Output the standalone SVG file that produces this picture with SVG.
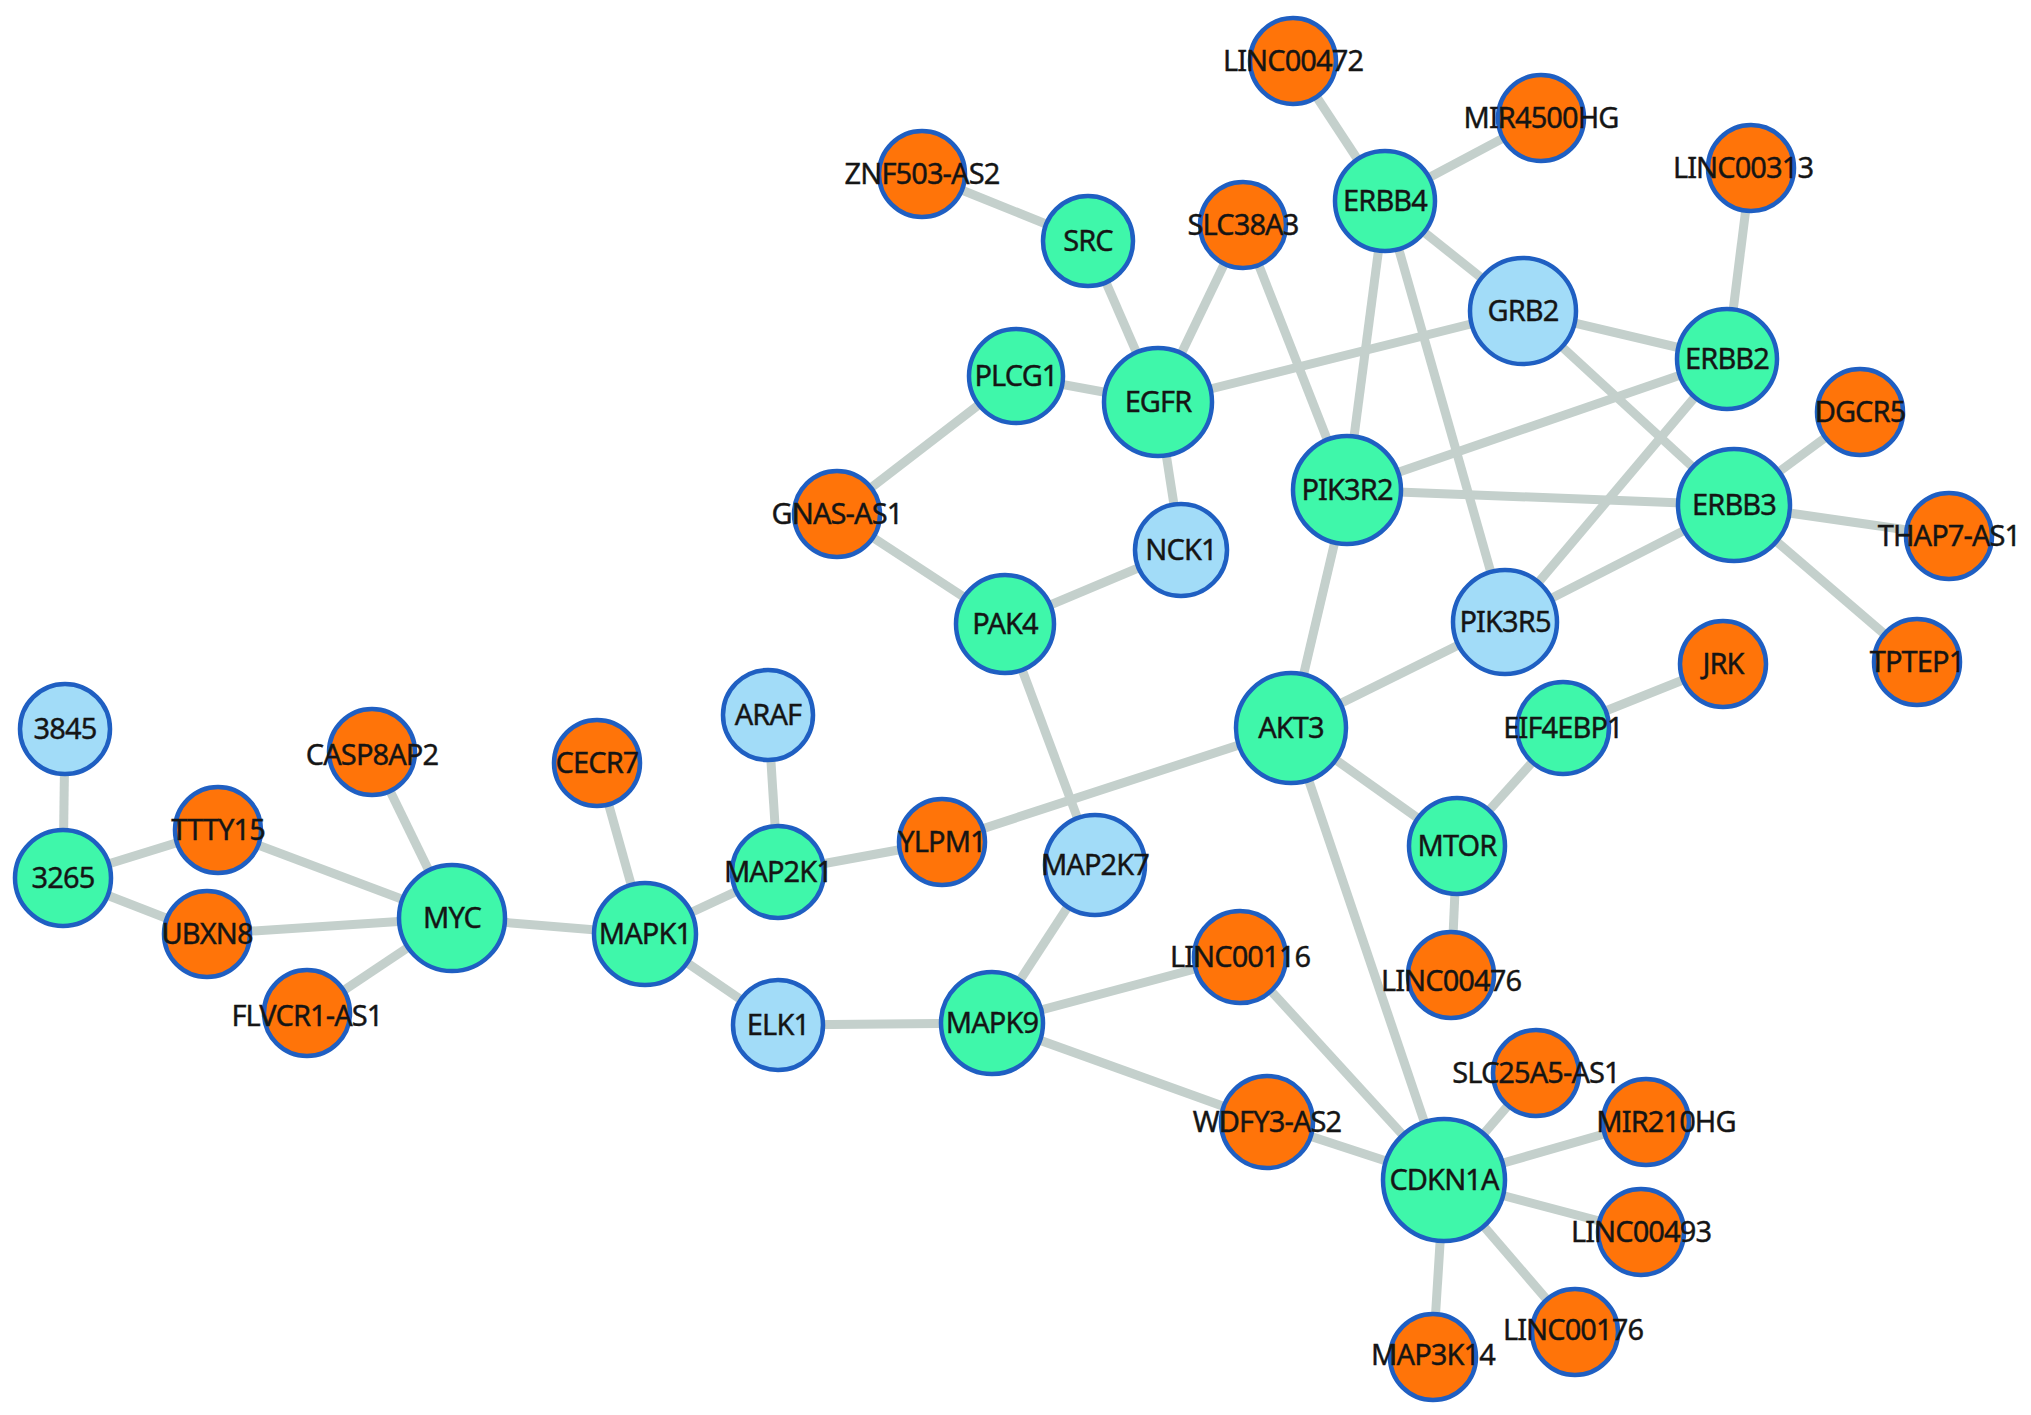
<svg xmlns="http://www.w3.org/2000/svg" width="2031" height="1415" viewBox="0 0 2031 1415">
<style>
.e{stroke:#c4d0cc;stroke-width:9;stroke-linecap:butt;fill:none}
.n circle{stroke:#1f5fc2;stroke-width:4.5}
.o circle{fill:#ff7409}
.g circle{fill:#3ff7aa}
.b circle{fill:#a2dcf8}
text{font-family:"Noto Sans","Open Sans","DejaVu Sans",sans-serif;font-size:29px;fill:#151515;stroke:#151515;stroke-width:0.4;text-anchor:middle;letter-spacing:-0.9px}
</style>
<rect width="2031" height="1415" fill="#ffffff"/>
<g id="edges">
<line class="e" x1="1293" y1="61" x2="1385" y2="201"/>
<line class="e" x1="1541" y1="118" x2="1385" y2="201"/>
<line class="e" x1="1385" y1="201" x2="1523" y2="311"/>
<line class="e" x1="1385" y1="201" x2="1347" y2="490"/>
<line class="e" x1="1385" y1="201" x2="1505" y2="622"/>
<line class="e" x1="922" y1="174" x2="1088" y2="241"/>
<line class="e" x1="1088" y1="241" x2="1158" y2="402"/>
<line class="e" x1="1243" y1="225" x2="1158" y2="402"/>
<line class="e" x1="1243" y1="225" x2="1347" y2="490"/>
<line class="e" x1="1158" y1="402" x2="1523" y2="311"/>
<line class="e" x1="1158" y1="402" x2="1016" y2="376"/>
<line class="e" x1="1158" y1="402" x2="1181" y2="550"/>
<line class="e" x1="1016" y1="376" x2="837" y2="514"/>
<line class="e" x1="837" y1="514" x2="1005" y2="624"/>
<line class="e" x1="1005" y1="624" x2="1181" y2="550"/>
<line class="e" x1="1005" y1="624" x2="1095" y2="865"/>
<line class="e" x1="1751" y1="168" x2="1727" y2="359"/>
<line class="e" x1="1523" y1="311" x2="1727" y2="359"/>
<line class="e" x1="1523" y1="311" x2="1734" y2="505"/>
<line class="e" x1="1727" y1="359" x2="1347" y2="490"/>
<line class="e" x1="1727" y1="359" x2="1505" y2="622"/>
<line class="e" x1="1347" y1="490" x2="1734" y2="505"/>
<line class="e" x1="1734" y1="505" x2="1505" y2="622"/>
<line class="e" x1="1734" y1="505" x2="1860" y2="412"/>
<line class="e" x1="1734" y1="505" x2="1949" y2="536"/>
<line class="e" x1="1734" y1="505" x2="1917" y2="662"/>
<line class="e" x1="1347" y1="490" x2="1291" y2="728"/>
<line class="e" x1="1291" y1="728" x2="1505" y2="622"/>
<line class="e" x1="1291" y1="728" x2="942" y2="842"/>
<line class="e" x1="1291" y1="728" x2="1457" y2="846"/>
<line class="e" x1="1291" y1="728" x2="1444" y2="1180"/>
<line class="e" x1="1563" y1="728" x2="1723" y2="664"/>
<line class="e" x1="1563" y1="728" x2="1457" y2="846"/>
<line class="e" x1="1457" y1="846" x2="1451" y2="981"/>
<line class="e" x1="942" y1="842" x2="778" y2="872"/>
<line class="e" x1="768" y1="715" x2="778" y2="872"/>
<line class="e" x1="778" y1="872" x2="645" y2="934"/>
<line class="e" x1="597" y1="763" x2="645" y2="934"/>
<line class="e" x1="645" y1="934" x2="452" y2="918"/>
<line class="e" x1="645" y1="934" x2="778" y2="1025"/>
<line class="e" x1="778" y1="1025" x2="992" y2="1023"/>
<line class="e" x1="992" y1="1023" x2="1095" y2="865"/>
<line class="e" x1="992" y1="1023" x2="1240" y2="957"/>
<line class="e" x1="992" y1="1023" x2="1267" y2="1122"/>
<line class="e" x1="1267" y1="1122" x2="1444" y2="1180"/>
<line class="e" x1="1240" y1="957" x2="1444" y2="1180"/>
<line class="e" x1="1536" y1="1073" x2="1444" y2="1180"/>
<line class="e" x1="1646" y1="1122" x2="1444" y2="1180"/>
<line class="e" x1="1641" y1="1232" x2="1444" y2="1180"/>
<line class="e" x1="1573" y1="1330" x2="1444" y2="1180"/>
<line class="e" x1="1433" y1="1355" x2="1444" y2="1180"/>
<line class="e" x1="452" y1="918" x2="372" y2="754"/>
<line class="e" x1="452" y1="918" x2="218" y2="830"/>
<line class="e" x1="452" y1="918" x2="207" y2="934"/>
<line class="e" x1="452" y1="918" x2="307" y2="1015"/>
<line class="e" x1="63" y1="878" x2="218" y2="830"/>
<line class="e" x1="63" y1="878" x2="207" y2="934"/>
<line class="e" x1="63" y1="878" x2="65" y2="729"/>
</g>
<g id="n-LINC00472" class="n o"><circle cx="1293" cy="61" r="43"/><text x="1293" y="71">LINC00472</text></g>
<g id="n-MIR4500HG" class="n o"><circle cx="1541" cy="118" r="43"/><text x="1541" y="128">MIR4500HG</text></g>
<g id="n-ZNF503-AS2" class="n o"><circle cx="922" cy="174" r="43"/><text x="922" y="184">ZNF503-AS2</text></g>
<g id="n-SLC38A3" class="n o"><circle cx="1243" cy="225" r="43"/><text x="1243" y="235">SLC38A3</text></g>
<g id="n-LINC00313" class="n o"><circle cx="1751" cy="168" r="43"/><text x="1743" y="178">LINC00313</text></g>
<g id="n-DGCR5" class="n o"><circle cx="1860" cy="412" r="43"/><text x="1860" y="422">DGCR5</text></g>
<g id="n-THAP7-AS1" class="n o"><circle cx="1949" cy="536" r="43"/><text x="1949" y="546">THAP7-AS1</text></g>
<g id="n-TPTEP1" class="n o"><circle cx="1917" cy="662" r="43"/><text x="1917" y="672">TPTEP1</text></g>
<g id="n-JRK" class="n o"><circle cx="1723" cy="664" r="43"/><text x="1723" y="674">JRK</text></g>
<g id="n-GNAS-AS1" class="n o"><circle cx="837" cy="514" r="43"/><text x="837" y="524">GNAS-AS1</text></g>
<g id="n-CASP8AP2" class="n o"><circle cx="372" cy="752" r="43"/><text x="372" y="765">CASP8AP2</text></g>
<g id="n-CECR7" class="n o"><circle cx="597" cy="763" r="43"/><text x="597" y="773">CECR7</text></g>
<g id="n-TTTY15" class="n o"><circle cx="218" cy="830" r="43"/><text x="218" y="840">TTTY15</text></g>
<g id="n-UBXN8" class="n o"><circle cx="207" cy="934" r="43"/><text x="207" y="944">UBXN8</text></g>
<g id="n-FLVCR1-AS1" class="n o"><circle cx="307" cy="1013" r="43"/><text x="307" y="1026">FLVCR1-AS1</text></g>
<g id="n-YLPM1" class="n o"><circle cx="942" cy="842" r="43"/><text x="942" y="852">YLPM1</text></g>
<g id="n-LINC00116" class="n o"><circle cx="1240" cy="957" r="46"/><text x="1240" y="967">LINC00116</text></g>
<g id="n-LINC00476" class="n o"><circle cx="1451" cy="975" r="43"/><text x="1451" y="991">LINC00476</text></g>
<g id="n-SLC25A5-AS1" class="n o"><circle cx="1536" cy="1073" r="43"/><text x="1536" y="1083">SLC25A5-AS1</text></g>
<g id="n-MIR210HG" class="n o"><circle cx="1646" cy="1122" r="43"/><text x="1666" y="1132">MIR210HG</text></g>
<g id="n-WDFY3-AS2" class="n o"><circle cx="1267" cy="1122" r="46"/><text x="1267" y="1132">WDFY3-AS2</text></g>
<g id="n-LINC00493" class="n o"><circle cx="1641" cy="1232" r="43"/><text x="1641" y="1242">LINC00493</text></g>
<g id="n-LINC00176" class="n o"><circle cx="1575" cy="1332" r="43"/><text x="1573" y="1340">LINC00176</text></g>
<g id="n-MAP3K14" class="n o"><circle cx="1433" cy="1357" r="43"/><text x="1433" y="1365">MAP3K14</text></g>
<g id="n-ERBB4" class="n g"><circle cx="1385" cy="201" r="50"/><text x="1385" y="211">ERBB4</text></g>
<g id="n-SRC" class="n g"><circle cx="1088" cy="241" r="45"/><text x="1088" y="251">SRC</text></g>
<g id="n-PLCG1" class="n g"><circle cx="1016" cy="376" r="47"/><text x="1016" y="386">PLCG1</text></g>
<g id="n-EGFR" class="n g"><circle cx="1158" cy="402" r="54"/><text x="1158" y="412">EGFR</text></g>
<g id="n-ERBB2" class="n g"><circle cx="1727" cy="359" r="50"/><text x="1727" y="369">ERBB2</text></g>
<g id="n-PIK3R2" class="n g"><circle cx="1347" cy="490" r="54"/><text x="1347" y="500">PIK3R2</text></g>
<g id="n-ERBB3" class="n g"><circle cx="1734" cy="505" r="56"/><text x="1734" y="515">ERBB3</text></g>
<g id="n-PAK4" class="n g"><circle cx="1005" cy="624" r="49"/><text x="1005" y="634">PAK4</text></g>
<g id="n-AKT3" class="n g"><circle cx="1291" cy="728" r="55"/><text x="1291" y="738">AKT3</text></g>
<g id="n-EIF4EBP1" class="n g"><circle cx="1563" cy="728" r="46"/><text x="1563" y="738">EIF4EBP1</text></g>
<g id="n-MTOR" class="n g"><circle cx="1457" cy="846" r="48"/><text x="1457" y="856">MTOR</text></g>
<g id="n-3265" class="n g"><circle cx="63" cy="878" r="48"/><text x="63" y="888">3265</text></g>
<g id="n-MYC" class="n g"><circle cx="452" cy="918" r="53"/><text x="452" y="928">MYC</text></g>
<g id="n-MAPK1" class="n g"><circle cx="645" cy="934" r="51"/><text x="645" y="944">MAPK1</text></g>
<g id="n-MAP2K1" class="n g"><circle cx="778" cy="872" r="46"/><text x="778" y="882">MAP2K1</text></g>
<g id="n-MAPK9" class="n g"><circle cx="992" cy="1023" r="51"/><text x="992" y="1033">MAPK9</text></g>
<g id="n-CDKN1A" class="n g"><circle cx="1444" cy="1180" r="61"/><text x="1444" y="1190">CDKN1A</text></g>
<g id="n-GRB2" class="n b"><circle cx="1523" cy="311" r="53"/><text x="1523" y="321">GRB2</text></g>
<g id="n-NCK1" class="n b"><circle cx="1181" cy="550" r="46"/><text x="1181" y="560">NCK1</text></g>
<g id="n-PIK3R5" class="n b"><circle cx="1505" cy="622" r="52"/><text x="1505" y="632">PIK3R5</text></g>
<g id="n-ARAF" class="n b"><circle cx="768" cy="715" r="45"/><text x="768" y="725">ARAF</text></g>
<g id="n-3845" class="n b"><circle cx="65" cy="729" r="45"/><text x="65" y="739">3845</text></g>
<g id="n-MAP2K7" class="n b"><circle cx="1095" cy="865" r="50"/><text x="1095" y="875">MAP2K7</text></g>
<g id="n-ELK1" class="n b"><circle cx="778" cy="1025" r="45"/><text x="778" y="1035">ELK1</text></g>
</svg>
